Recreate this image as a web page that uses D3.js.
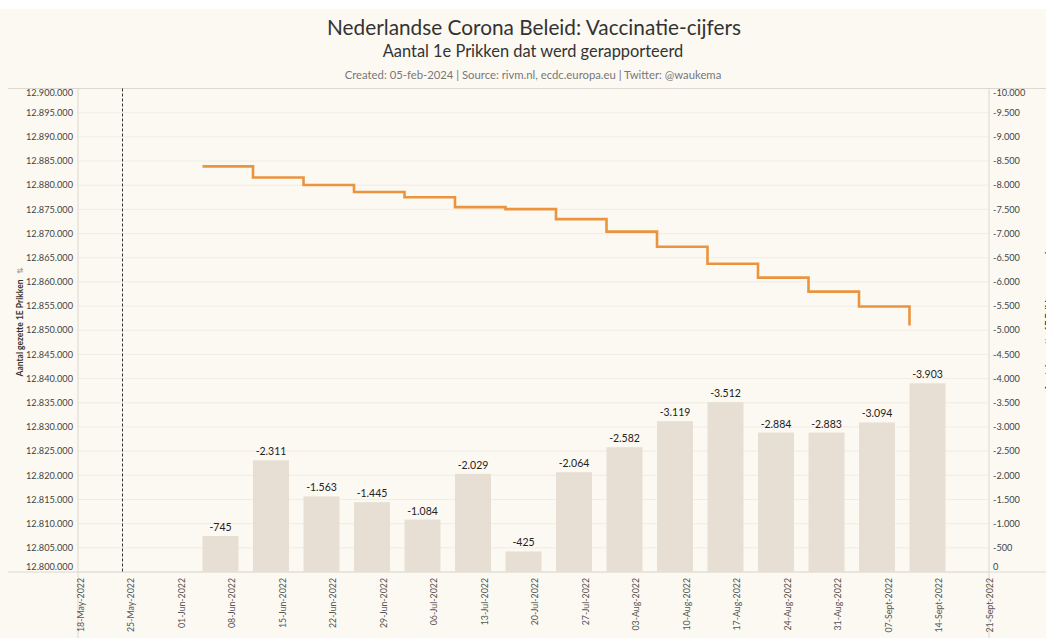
<!DOCTYPE html>
<html><head><meta charset="utf-8">
<script src="https://cdn.jsdelivr.net/npm/d3@7"></script>
<style>
html,body{margin:0;padding:0;background:#fff;}
svg{display:block;font-family:Lato,"Open Sans",sans-serif;}
</style></head>
<body><svg id="c" width="1046" height="638"></svg>
<script>
// ---- data ----
const tickDates = ["2022-05-18","2022-05-25","2022-06-01","2022-06-08","2022-06-15","2022-06-22","2022-06-29","2022-07-06","2022-07-13","2022-07-20","2022-07-27","2022-08-03","2022-08-10","2022-08-17","2022-08-24","2022-08-31","2022-09-07","2022-09-14","2022-09-21"];
const tickLabels = ["18-May-2022","25-May-2022","01-Jun-2022","08-Jun-2022","15-Jun-2022","22-Jun-2022","29-Jun-2022","06-Jul-2022","13-Jul-2022","20-Jul-2022","27-Jul-2022","03-Aug-2022","10-Aug-2022","17-Aug-2022","24-Aug-2022","31-Aug-2022","07-Sept-2022","14-Sept-2022","21-Sept-2022"];
const weekDates = ["2022-06-08","2022-06-15","2022-06-22","2022-06-29","2022-07-06","2022-07-13","2022-07-20","2022-07-27","2022-08-03","2022-08-10","2022-08-17","2022-08-24","2022-08-31","2022-09-07","2022-09-14"];
const weeklyChange = [-745,-2311,-1563,-1445,-1084,-2029,-425,-2064,-2582,-3119,-3512,-2884,-2883,-3094,-3903];
const totalFirstShots = [12883900,12881589,12880026,12878581,12877497,12875468,12875043,12872979,12870397,12867278,12863766,12860882,12857999,12854905,12851002];
const refLineDate = "2022-05-25";
const leftTicks = d3.range(12800000, 12900001, 5000);
const rightTicks = d3.range(0, -10001, -500);

// ---- setup ----
const parse = d3.utcParse("%Y-%m-%d");
const nl = d3.formatLocale({decimal:",",thousands:".",grouping:[3],currency:["€",""],minus:"-"});
const fmt = nl.format(",d");
const svg = d3.select("#c");
const W = 1046, H = 638;
const pTop = 88.5, pBottom = 572, pLeft = 78, pRight = 989;

svg.append("rect").attr("x",0).attr("y",0).attr("width",W).attr("height",H).attr("fill","#fcf9f2");
svg.append("rect").attr("x",0).attr("y",0).attr("width",W).attr("height",9).attr("fill","#ffffff");

const x = d3.scaleUtc().domain([parse(tickDates[0]), parse(tickDates[tickDates.length-1])]).range([80, 989]);
const yL = d3.scaleLinear().domain([12800000,12900000]).range([pBottom, pTop]);
const yR = d3.scaleLinear().domain([0,-10000]).range([pBottom, pTop]);

const barW = 36, barShift = -11;

// titles
svg.append("text").attr("x",534).attr("y",35).attr("text-anchor","middle")
  .attr("font-size",20.8).attr("fill","#333").text("Nederlandse Corona Beleid: Vaccinatie-cijfers");
svg.append("text").attr("x",533).attr("y",57).attr("text-anchor","middle")
  .attr("font-size",16.4).attr("fill","#333").text("Aantal 1e Prikken dat werd gerapporteerd");
svg.append("text").attr("x",533).attr("y",79).attr("text-anchor","middle")
  .attr("font-size",11.3).attr("fill","#777").text("Created: 05-feb-2024 | Source: rivm.nl,  ecdc.europa.eu | Twitter: @waukema");

// gridlines
svg.append("g").selectAll("line").data(leftTicks).join("line")
  .attr("x1",pLeft).attr("x2",pRight).attr("y1",d=>yL(d)).attr("y2",d=>yL(d))
  .attr("stroke","#f1ece4").attr("stroke-width",1);

// frame lines
svg.append("line").attr("x1",8).attr("x2",W).attr("y1",pTop).attr("y2",pTop).attr("stroke","#dcd8d0");
svg.append("line").attr("x1",pLeft).attr("x2",pLeft).attr("y1",pTop).attr("y2",H).attr("stroke","#dcd8d0");
svg.append("line").attr("x1",pRight).attr("x2",pRight).attr("y1",pTop).attr("y2",H).attr("stroke","#dcd8d0");
svg.append("line").attr("x1",8).attr("x2",W).attr("y1",pBottom).attr("y2",pBottom).attr("stroke","#dcd8d0");

// bars
svg.append("g").selectAll("rect").data(weeklyChange).join("rect")
  .attr("x",(d,i)=>x(parse(weekDates[i]))+barShift-barW/2)
  .attr("y",d=>yR(d)).attr("width",barW).attr("height",d=>pBottom-yR(d))
  .attr("fill","#e7dfd3");
svg.append("g").selectAll("text").data(weeklyChange).join("text")
  .attr("x",(d,i)=>x(parse(weekDates[i]))+barShift)
  .attr("y",d=>yR(d)-5).attr("text-anchor","middle")
  .attr("font-size",10.5).attr("fill","#222").text(d=>fmt(d));

// reference dashed line
svg.append("line").attr("x1",x(parse(refLineDate))-8).attr("x2",x(parse(refLineDate))-8)
  .attr("y1",pTop).attr("y2",pBottom).attr("stroke","#333").attr("stroke-width",1).attr("stroke-dasharray","3,2");

// step line
const line = d3.line().curve(d3.curveStepAfter)
  .x((d,i)=>x(parse(weekDates[i]))+barShift-barW/2).y(d=>yL(d));
svg.append("path").datum(totalFirstShots).attr("d",line)
  .attr("fill","none").attr("stroke","#ea943f").attr("stroke-width",2.6);

// left axis labels
svg.append("g").selectAll("text").data(leftTicks).join("text")
  .attr("x",73).attr("y",d=>Math.min(Math.max(yL(d),pTop+4),pBottom-5)).attr("dy","0.35em")
  .attr("text-anchor","end").attr("font-size",9.2).attr("fill","#444").text(d=>fmt(d));
// right axis labels
svg.append("g").selectAll("text").data(rightTicks).join("text")
  .attr("x",993).attr("y",d=>Math.min(Math.max(yR(d),pTop+4),pBottom-5)).attr("dy","0.35em")
  .attr("text-anchor","start").attr("font-size",9.2).attr("fill","#444").text(d=>fmt(d));

// x labels
svg.append("g").selectAll("text").data(tickDates).join("text")
  .attr("transform",(d)=>`translate(${x(parse(d))+3.5},578) rotate(-90)`)
  .attr("text-anchor","end").attr("font-size",8.8).attr("fill","#555").text((d,i)=>tickLabels[i]);

// axis titles
svg.append("text").attr("transform","translate(23,328) rotate(-90)").attr("text-anchor","middle")
  .attr("font-size",8.5).attr("font-weight","bold").attr("fill","#333").text("Aantal gezette 1E Prikken");
svg.append("text").attr("transform","translate(23,270) rotate(-90)").attr("text-anchor","middle")
  .attr("font-size",8).attr("fill","#999").text("⇅");
svg.append("text").attr("transform","translate(1052,320) rotate(-90)").attr("text-anchor","middle")
  .attr("font-size",9).attr("font-weight","bold").attr("fill","#333").text("Aantal gezette 1E Prikken per week");
</script></body></html>
